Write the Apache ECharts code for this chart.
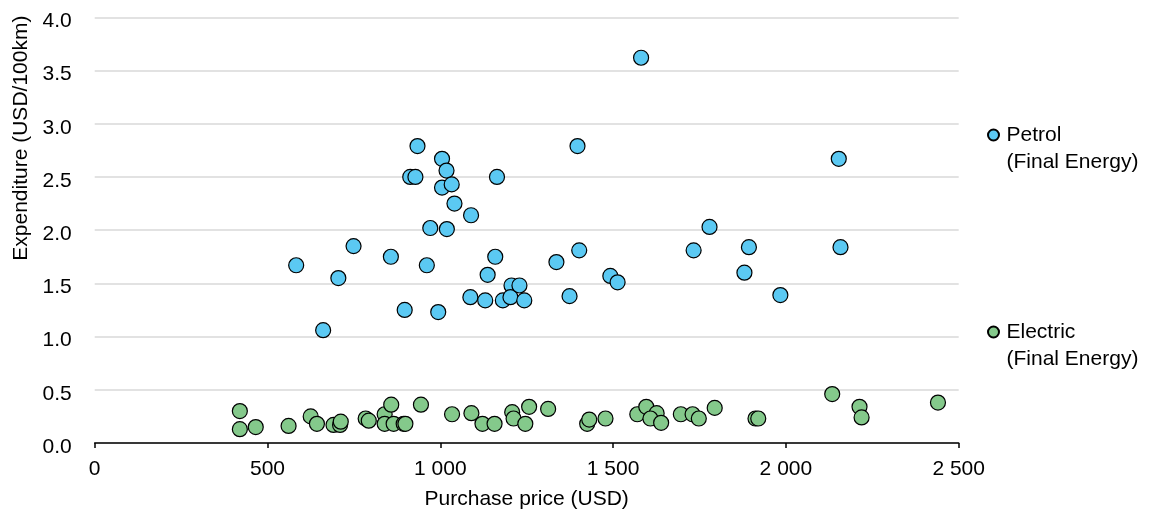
<!DOCTYPE html>
<html>
<head>
<meta charset="utf-8">
<script src="https://cdn.jsdelivr.net/npm/echarts@6/dist/echarts.min.js"></script>
<style>
html,body{margin:0;padding:0;background:#fff;}
#chart{width:1153px;height:515px;}
</style>
</head>
<body>
<div id="chart"></div>
<script>
const petrolName = 'Petrol\n(Final Energy)';
const electricName = 'Electric\n(Final Energy)';
const xAxisName = 'Purchase price (USD)';
const yAxisName = 'Expenditure (USD/100km)';

const petrolPrice = [583, 661, 705, 749, 857, 897, 913, 928, 934, 961, 971, 994, 1005, 1005, 1018, 1019, 1033, 1041, 1087, 1089, 1130, 1137, 1159, 1164, 1181, 1206, 1203, 1229, 1243, 1336, 1374, 1397, 1402, 1492, 1513, 1581, 1733, 1779, 1880, 1893, 1984, 2153, 2158];
const petrolCost = [1.67, 1.06, 1.55, 1.85, 1.75, 1.25, 2.50, 2.50, 2.79, 1.67, 2.02, 1.23, 2.67, 2.40, 2.56, 2.01, 2.43, 2.25, 1.37, 2.14, 1.34, 1.58, 1.75, 2.50, 1.34, 1.48, 1.37, 1.48, 1.34, 1.70, 1.38, 2.79, 1.81, 1.57, 1.51, 3.62, 1.81, 2.03, 1.60, 1.84, 1.39, 2.67, 1.84];

const electricPrice = [420, 420, 466, 561, 625, 643, 691, 710, 712, 784, 793, 839, 858, 839, 865, 894, 899, 944, 1034, 1090, 1122, 1157, 1208, 1212, 1246, 1257, 1312, 1425, 1431, 1478, 1570, 1596, 1626, 1608, 1639, 1696, 1730, 1748, 1794, 1912, 1920, 2134, 2213, 2219, 2440];
const electricCost = [0.30, 0.13, 0.15, 0.16, 0.25, 0.18, 0.17, 0.17, 0.20, 0.23, 0.21, 0.27, 0.36, 0.18, 0.18, 0.18, 0.18, 0.36, 0.27, 0.28, 0.18, 0.18, 0.29, 0.23, 0.18, 0.34, 0.32, 0.18, 0.22, 0.23, 0.27, 0.34, 0.28, 0.23, 0.19, 0.27, 0.27, 0.23, 0.33, 0.23, 0.23, 0.46, 0.34, 0.24, 0.38];

const xTicks = [0, 500, 1000, 1500, 2000, 2500];
const yTicks = [0, 0.5, 1.0, 1.5, 2.0, 2.5, 3.0, 3.5, 4.0];

const FONT = '"Liberation Sans", Arial, sans-serif';
const FS = 21;
const pair = (xs, ys) => xs.map((x, i) => [x, ys[i]]);

const legendBase = {
  orient: 'vertical', itemWidth: 16, itemHeight: 11, itemGap: 0, icon: 'circle', padding: 5,
  formatter: name => '\n' + name,
  textStyle: {fontFamily: FONT, fontSize: FS, color: '#000', lineHeight: 27}
};

const chart = echarts.init(document.getElementById('chart'), null, {renderer: 'canvas'});
chart.setOption({
  animation: false,
  backgroundColor: '#fff',
  grid: {left: 94.7, right: 194.3, top: 17.3, bottom: 68.5, containLabel: false},
  xAxis: {
    type: 'value',
    min: xTicks[0], max: xTicks[xTicks.length - 1], interval: 500,
    name: xAxisName, nameLocation: 'middle', nameGap: 46,
    nameTextStyle: {fontFamily: FONT, fontSize: FS, color: '#000'},
    axisLine: {show: true, lineStyle: {color: '#000', width: 1.5}},
    axisTick: {show: true, inside: false, length: 5, lineStyle: {color: '#000', width: 1.5}},
    axisLabel: {fontFamily: FONT, fontSize: FS, color: '#000', margin: 16,
      formatter: v => String(v).replace(/\B(?=(\d{3})+(?!\d))/g, ' ')},
    splitLine: {show: false}
  },
  yAxis: {
    type: 'value',
    min: yTicks[0], max: yTicks[yTicks.length - 1], interval: 0.5,
    name: yAxisName, nameLocation: 'middle', nameGap: 62,
    nameTextStyle: {fontFamily: FONT, fontSize: FS, color: '#000', padding: [0, 0, 0, 184]},
    axisLine: {show: false},
    axisTick: {show: false},
    axisLabel: {fontFamily: FONT, fontSize: FS, color: '#000', margin: 23,
      formatter: v => '{v|' + v.toFixed(1) + '}',
      rich: {v: {fontFamily: FONT, fontSize: FS, color: '#000', padding: [8, 0, 0, 0]}}},
    splitLine: {show: true, lineStyle: {color: '#d9d9d9', width: 1.5}}
  },
  legend: [
    Object.assign({data: [petrolName], left: 982, top: 89.5}, legendBase),
    Object.assign({data: [electricName], left: 982, top: 286.5}, legendBase)
  ],
  series: [
    {name: petrolName, type: 'scatter', symbol: 'circle', symbolSize: 15,
     itemStyle: {color: '#5BC9F3', borderColor: '#000', borderWidth: 1.2, opacity: 1},
     data: pair(petrolPrice, petrolCost)},
    {name: electricName, type: 'scatter', symbol: 'circle', symbolSize: 15,
     itemStyle: {color: '#84C98B', borderColor: '#000', borderWidth: 1.2, opacity: 1},
     data: pair(electricPrice, electricCost)}
  ]
});
</script>
</body>
</html>
